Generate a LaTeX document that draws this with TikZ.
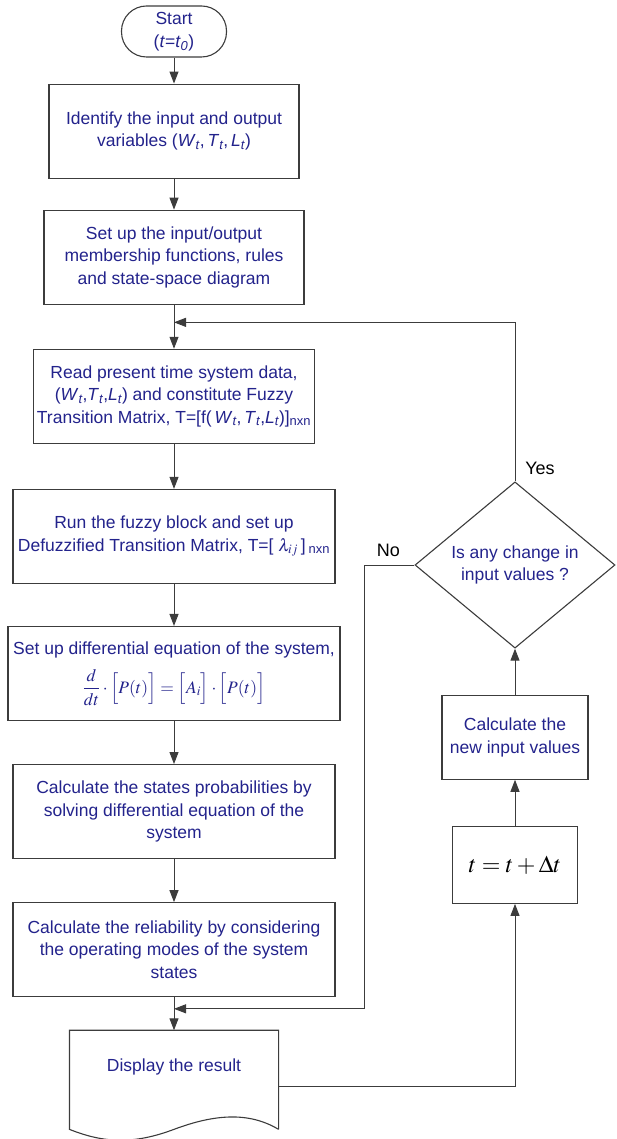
\documentclass[tikz,border=0pt]{standalone}
\usepackage{mathptmx}
\usepackage[no-math]{fontspec}
\setmainfont{Liberation Sans}
\usetikzlibrary{shapes.geometric,arrows.meta,positioning,calc}
\definecolor{textblue}{HTML}{23238C}
\definecolor{linegris}{HTML}{3C3C3C}
\newcommand{\vsub}[1]{\textit{#1}\textsubscript{\itshape t}}

\begin{document}
\begin{tikzpicture}[x=1pt, y=1pt,
    font=\fontsize{17.5}{22.5}\selectfont,
    box/.style={draw=linegris, line width=1.1pt, fill=white, align=center,
      text=textblue, minimum height=94pt, inner sep=2pt},
    term/.style={box, rounded corners=25pt, minimum width=105pt, minimum height=51pt},
    decision/.style={diamond, draw=linegris, line width=1.1pt, align=center,
      text=textblue, minimum width=200pt, minimum height=164pt, inner sep=0pt},
    flow/.style={-{Triangle[length=12pt,width=9pt]}, line width=1pt, linegris},
    lbl/.style={font=\fontsize{18}{20}\selectfont, text=black}
  ]
    \useasboundingbox (0,0) rectangle (616,-1139);
    % Main column
    \node[term] (start) at (174,-31.5) {Start\\(\textit{t}=\textit{t}\textsubscript{\itshape 0})};
    \node[box, minimum width=250pt, below=26pt of start] (ident)
      {Identify the input and output\\variables (\vsub{W},\,\vsub{T},\,\vsub{L})};
    \node[box, minimum width=260pt, below=31pt of ident] (setup)
      {Set up the input/output\\membership functions, rules\\and state-space diagram};
    \node[box, minimum width=281pt, below=44pt of setup] (readdata)
      {Read present time system data,\\(\vsub{W},\vsub{T},\vsub{L}) and constitute Fuzzy\\Transition Matrix, T=[f(\,\vsub{W},\,\vsub{T},\vsub{L})]\textsubscript{nxn}};
    \node[box, minimum width=322pt, below=45pt of readdata] (fuzzy)
      {Run the fuzzy block and set up\\Defuzzified Transition Matrix, T=[\;$\lambda_{ij}$\,]\,\textsubscript{nxn}};
    \node[box, minimum width=332pt, below=42pt of fuzzy] (diffeq)
      {Set up differential equation of the system,\\[10pt]
       $\displaystyle\frac{d}{dt}\cdot\Bigl[P(t)\Bigr]=\Bigl[A_i\Bigr]\cdot\Bigl[P(t)\Bigr]$};
    \node[box, minimum width=322pt, below=43pt of diffeq] (probs)
      {Calculate the states probabilities by\\solving differential equation of the\\system};
    \node[box, minimum width=322pt, below=43pt of probs] (reliab)
      {Calculate the reliability by considering\\the operating modes of the system\\states};
    % Output document
    \node[box, draw=none, fill=none, minimum width=208pt, minimum height=98pt,
          below=33pt of reliab] (result) {Display the result\\[6pt]};
    \draw[draw=linegris, line width=1.1pt] (result.south east) -- (result.north east)
      -- (result.north west) -- (result.south west)
      .. controls +(35,-14) and +(-40,-15) .. (result.south)
      .. controls +(40,15) and +(-30,18) .. (result.south east);
    % Feedback column
    \node[decision] (change) at (515,-565) {Is any change in\\input values ?};
    \node[box, minimum width=146pt, minimum height=84pt, below=46pt of change] (newin)
      {Calculate the\\new input values};
    \node[box, text=black, minimum width=125pt, minimum height=77pt, below=46pt of newin] (tstep)
      {\fontsize{24}{26}\selectfont $t=t+\Delta t$};
    \node[lbl] (yeslbl) at ([xshift=25pt,yshift=13pt]change.north) {Yes};
    \node[lbl] (nolbl) at ([xshift=-26pt,yshift=15pt]change.west) {No};
    % Merge points
    \coordinate (yesin) at ($(setup.south)!0.4!(readdata.north)$);
    \coordinate (noin) at ($(reliab.south)!0.35!(result.north)$);
    % Connectors
    \draw[flow] (start) -- (ident);
    \draw[flow] (ident) -- (setup);
    \draw[flow] (setup) -- (readdata);
    \draw[flow] (readdata) -- (fuzzy);
    \draw[flow] (fuzzy) -- (diffeq);
    \draw[flow] (diffeq) -- (probs);
    \draw[flow] (probs) -- (reliab);
    \draw[flow] (reliab) -- (result);
    \draw[flow] (change.north) |- (yesin);
    \draw[flow] (change.west) -- ++(-50,0) |- (noin);
    \draw[flow] ([yshift=-7pt]result.east) -| (tstep.south);
    \draw[flow] (tstep) -- (newin);
    \draw[flow] (newin) -- (change);
\end{tikzpicture}
\end{document}
